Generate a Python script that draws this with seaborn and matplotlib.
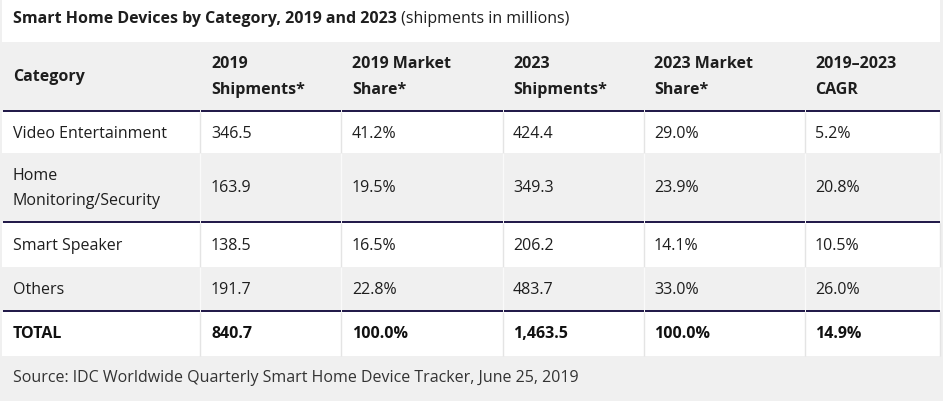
import matplotlib
matplotlib.use("Agg")
import matplotlib.pyplot as plt
import seaborn as sns

sns.set_theme(style="white")
plt.rcParams['font.family'] = ['Open Sans', 'DejaVu Sans']

title_bold = "Smart Home Devices by Category, 2019 and 2023"
title_rest = " (shipments in millions)"
headers = ["Category", "2019\nShipments*", "2019 Market\nShare*", "2023\nShipments*",
           "2023 Market\nShare*", "2019\u20132023\nCAGR"]
categories = ["Video Entertainment", "Home\nMonitoring/Security", "Smart Speaker", "Others"]
ship_2019 = ["346.5", "163.9", "138.5", "191.7"]
share_2019 = ["41.2%", "19.5%", "16.5%", "22.8%"]
ship_2023 = ["424.4", "349.3", "206.2", "483.7"]
share_2023 = ["29.0%", "23.9%", "14.1%", "33.0%"]
cagr = ["5.2%", "20.8%", "10.5%", "26.0%"]
total_row = ["TOTAL", "840.7", "100.0%", "1,463.5", "100.0%", "14.9%"]
source = "Source: IDC Worldwide Quarterly Smart Home Device Tracker, June 25, 2019"

W, H = 943, 401
fig = plt.figure(figsize=(W / 100, H / 100), dpi=100, facecolor="#f0f0f0")
ax = fig.add_axes([0, 0, 1, 1])
ax.set_xlim(0, W)
ax.set_ylim(H, 0)
ax.axis("off")
ax.set_facecolor("#f0f0f0")

GREY = "#f0f0f0"
WHITE = "#ffffff"
NAVY = "#1e1646"
TXT = "#1e1e1e"
col_x = [2, 200, 341, 503, 644, 805, 940]
text_x = [13, 211, 352, 513, 654, 815]
fs = 11.5
LS = 1.8

# title band
ax.add_patch(plt.Rectangle((2, 0), 938, 42, color=WHITE, lw=0))
t = ax.text(13, 19, title_bold, fontsize=fs, fontweight="bold", color=TXT, va="center", ha="left")
fig.canvas.draw()
bb = t.get_window_extent(renderer=fig.canvas.get_renderer())
ax.text(13 + bb.width, 19, title_rest, fontsize=fs, color=TXT, va="center", ha="left")

# header
ax.add_patch(plt.Rectangle((0, 42), W, 69, color=GREY, lw=0))
for i, h in enumerate(headers):
    ax.text(text_x[i], 77, h, fontsize=fs, fontweight="bold", color=TXT, va="center", ha="left",
            linespacing=LS)

# body rows: (top, bottom, fill)
rows = [(112, 153, WHITE), (153, 221, GREY), (223, 267, WHITE), (267, 310, GREY)]
cols = [categories, ship_2019, share_2019, ship_2023, share_2023, cagr]
for r, (top, bot, fill) in enumerate(rows):
    ax.add_patch(plt.Rectangle((2, top), 938, bot - top, color=fill, lw=0))
    sep = "#e4e4e4" if fill == WHITE else "#fafafa"
    for cx in col_x[1:]:
        ax.plot([cx, cx], [top, bot], color=sep, lw=1, solid_capstyle="butt")
    yc = (top + bot) / 2 + 1.5
    for c in range(6):
        ax.text(text_x[c], yc, cols[c][r], fontsize=fs, color=TXT, va="center", ha="left",
                linespacing=LS)

# total row
ax.add_patch(plt.Rectangle((2, 312), 938, 44, color=WHITE, lw=0))
for cx in col_x[1:]:
    ax.plot([cx, cx], [312, 356], color="#e4e4e4", lw=1, solid_capstyle="butt")
for c in range(6):
    ax.text(text_x[c], 334.5, total_row[c], fontsize=fs, fontweight="bold", color="#111111",
            va="center", ha="left")

# navy separators
for y in [111, 222, 311]:
    for i in range(6):
        ax.plot([col_x[i] + 0.5, col_x[i + 1] - 0.5], [y, y], color=NAVY, lw=1.4,
                solid_capstyle="butt")

# source
ax.text(13, 378.5, source, fontsize=fs, color="#333333", va="center", ha="left")

fig.savefig("out.png", dpi=100, facecolor=fig.get_facecolor())
